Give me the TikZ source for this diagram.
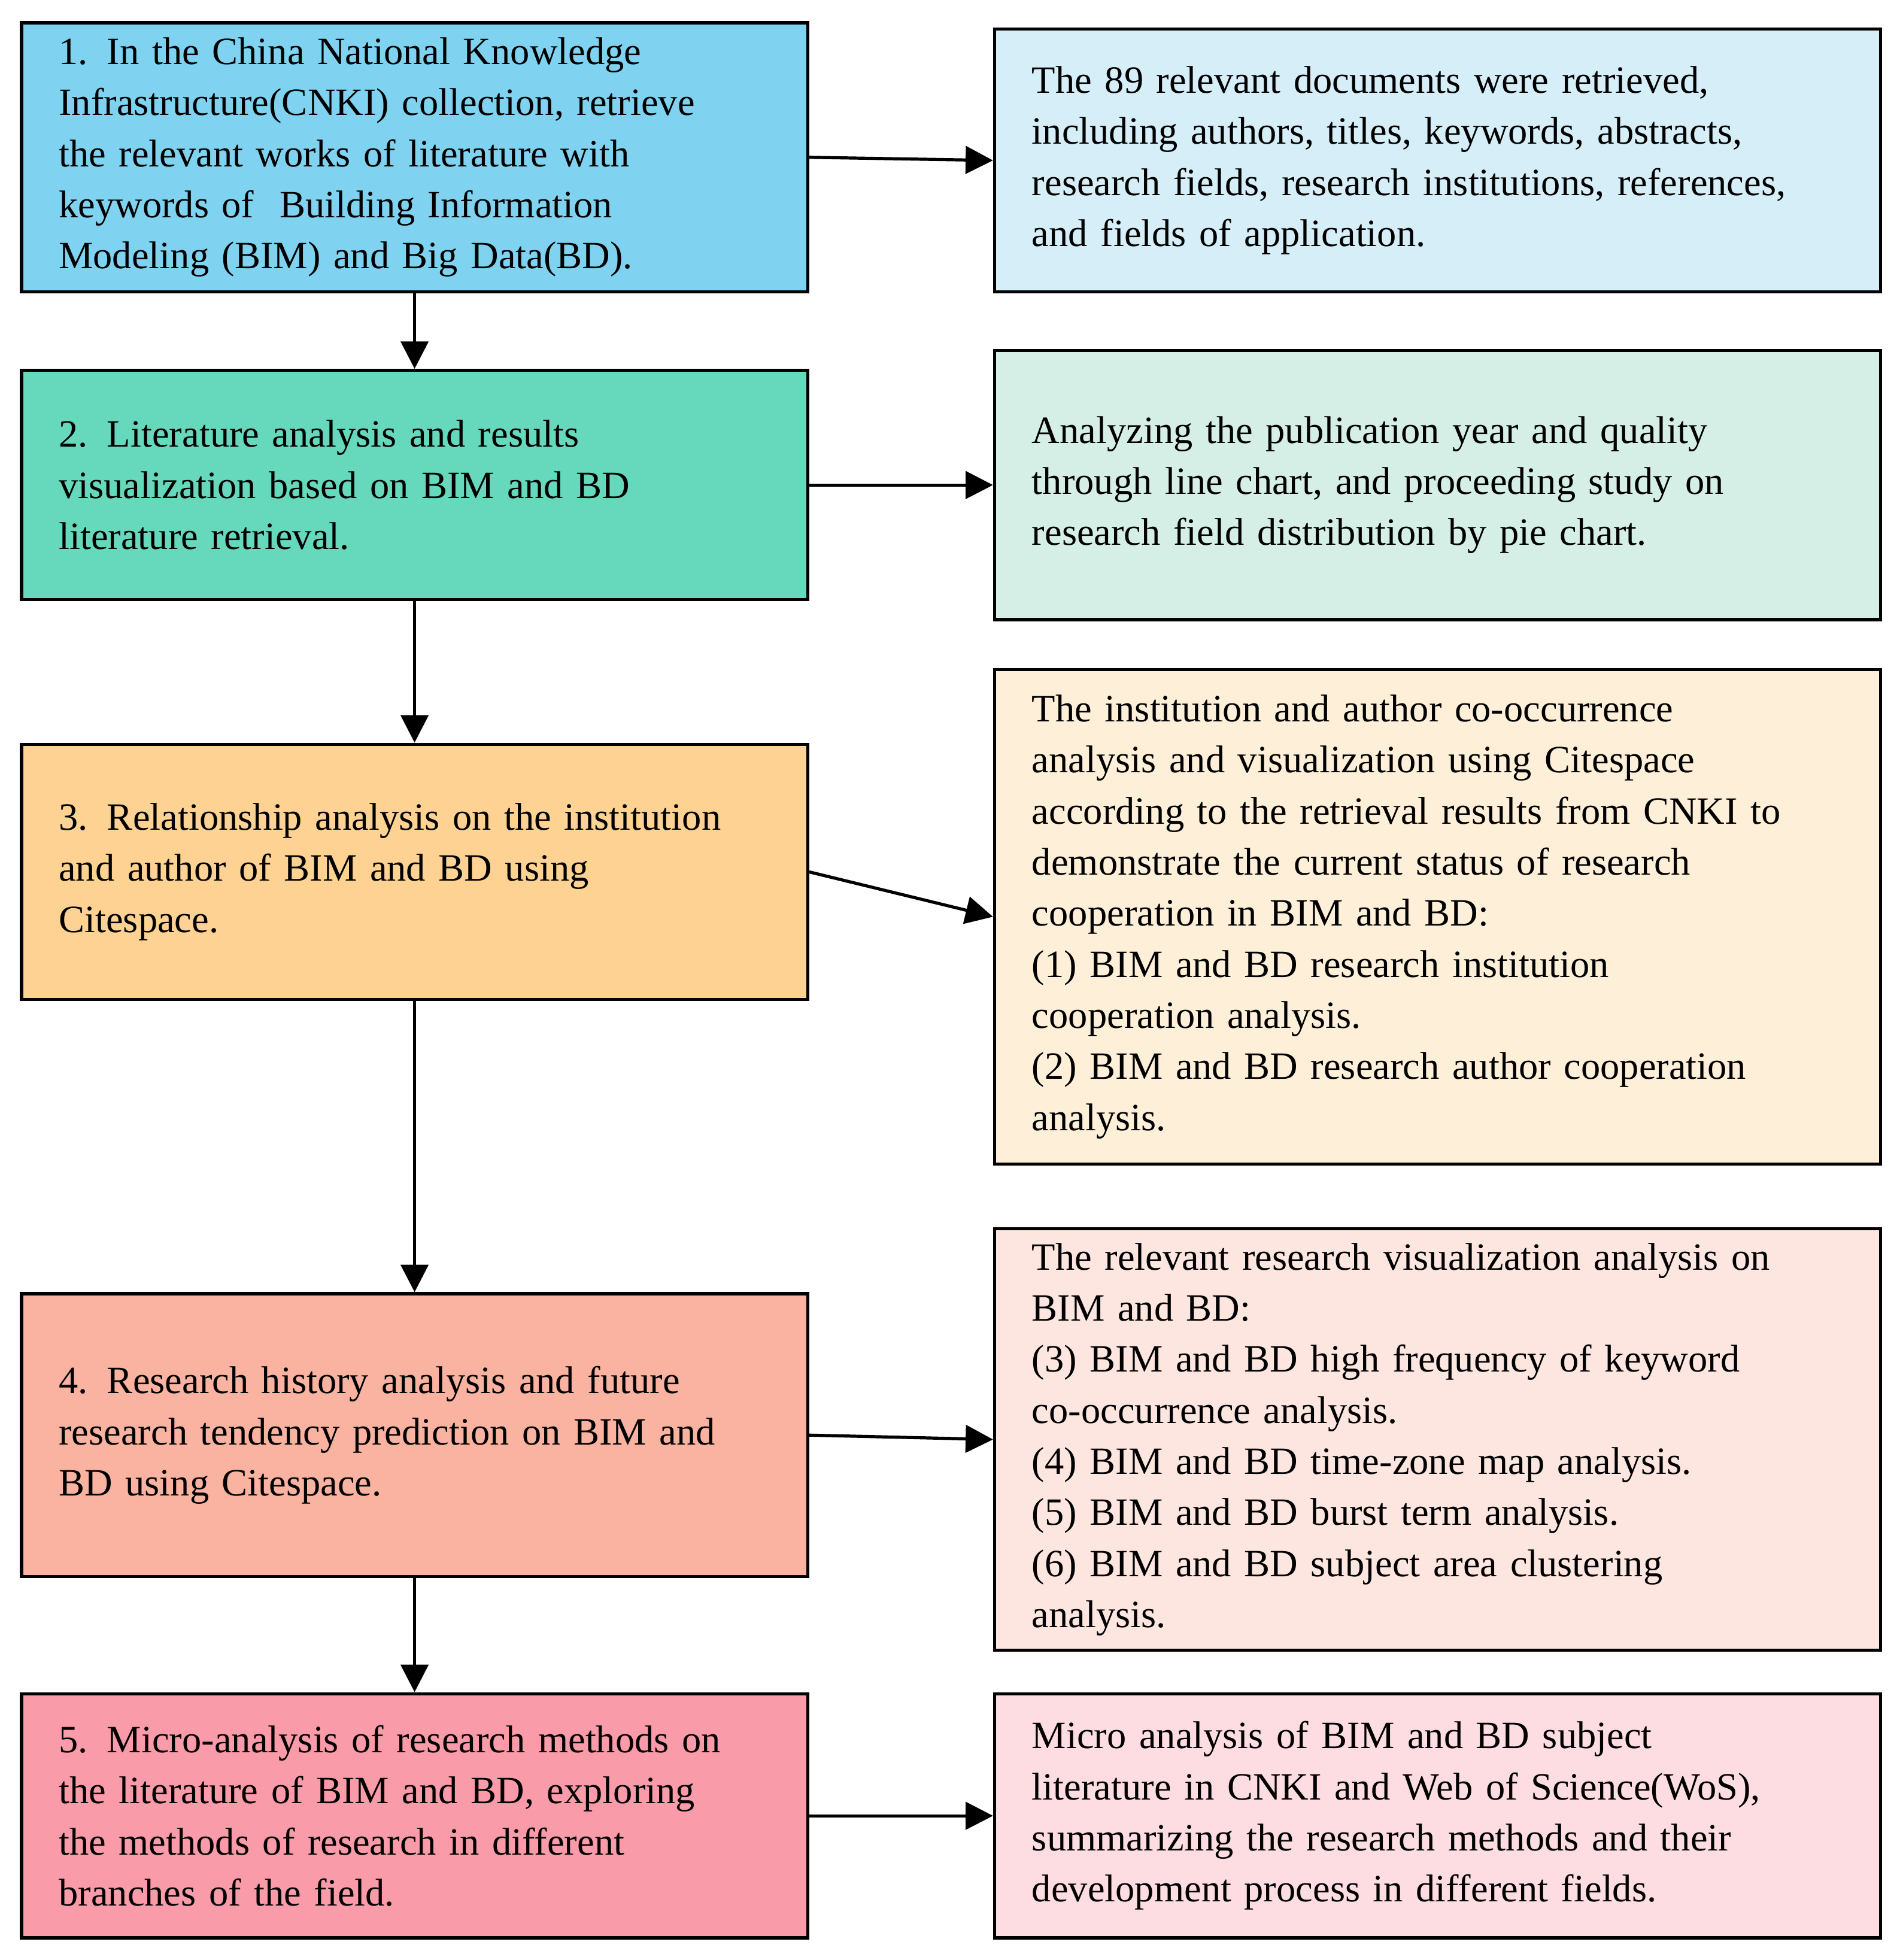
\documentclass[tikz,border=0pt]{standalone}
\usepackage{fontspec}
\setmainfont{Liberation Serif}
\usetikzlibrary{arrows.meta}
\definecolor{c1}{HTML}{7FD3F0}\definecolor{c2}{HTML}{66D9BC}\definecolor{c3}{HTML}{FDD292}
\definecolor{c4}{HTML}{F9B3A0}\definecolor{c5}{HTML}{F99BA8}
\definecolor{d1}{HTML}{D6EEF8}\definecolor{d2}{HTML}{D5EEE6}\definecolor{d3}{HTML}{FEEFD9}
\definecolor{d4}{HTML}{FDE5E0}\definecolor{d5}{HTML}{FDDDE2}
\begin{document}
\begin{tikzpicture}[x=1pt,y=-1pt,
  box/.style={draw=black,line width=2.5pt,inner xsep=30pt,inner ysep=0pt,align=left,anchor=north west,
    font=\fontsize{31}{41}\selectfont},
  lb/.style={box,minimum width=631pt,text width=571pt},
  rb/.style={box,minimum width=711pt,text width=651pt},
  arr/.style={line width=2.5pt,-{Triangle[length=22pt,width=22pt]}}]
\useasboundingbox (0,0) rectangle (1527,1573);
\node[lb,fill=c1,minimum height=216pt] (b1) at (16,17) {1. In the China National Knowledge\\Infrastructure(CNKI) collection, retrieve\\the relevant works of literature with\\keywords of \ Building Information\\Modeling (BIM) and Big Data(BD).};
\node[lb,fill=c2,minimum height=184pt] (b2) at (16,296) {2. Literature analysis and results\\visualization based on BIM and BD\\literature retrieval.};
\node[lb,fill=c3,minimum height=205pt] (b3) at (16,596) {3. Relationship analysis on the institution\\and author of BIM and BD using\\Citespace.};
\node[lb,fill=c4,minimum height=227pt] (b4) at (16,1037) {4. Research history analysis and future\\research tendency prediction on BIM and\\BD using Citespace.};
\node[lb,fill=c5,minimum height=196pt] (b5) at (16,1358) {5. Micro-analysis of research methods on\\the literature of BIM and BD, exploring\\the methods of research in different\\branches of the field.};
\node[rb,fill=d1,minimum height=211pt] (r1) at (797,22) {The 89 relevant documents were retrieved,\\including authors, titles, keywords, abstracts,\\research fields, research institutions, references,\\and fields of application.};
\node[rb,fill=d2,minimum height=216pt,inner ysep=0pt] (r2) at (797,280) {Analyzing the publication year and quality\\through line chart, and proceeding study on\\research field distribution by pie chart.\\[41pt]};
\node[rb,fill=d3,minimum height=397pt] (r3) at (797,536) {The institution and author co-occurrence\\analysis and visualization using Citespace\\according to the retrieval results from CNKI to\\demonstrate the current status of research\\cooperation in BIM and BD:\\(1) BIM and BD research institution\\cooperation analysis.\\(2) BIM and BD research author cooperation\\analysis.};
\node[rb,fill=d4,minimum height=338pt] (r4) at (797,985) {The relevant research visualization analysis on\\BIM and BD:\\(3) BIM and BD high frequency of keyword\\co-occurrence analysis.\\(4) BIM and BD time-zone map analysis.\\(5) BIM and BD burst term analysis.\\(6) BIM and BD subject area clustering\\analysis.};
\node[rb,fill=d5,minimum height=196pt] (r5) at (797,1358) {Micro analysis of BIM and BD subject\\literature in CNKI and Web of Science(WoS),\\summarizing the research methods and their\\development process in different fields.};
\draw[arr] (b1.south) -- (b2.north);
\draw[arr] (b2.south) -- (b3.north);
\draw[arr] (b3.south) -- (b4.north);
\draw[arr] (b4.south) -- (b5.north);
\draw[arr] (b1.east) -- (r1.west);
\draw[arr] (b2.east) -- (r2.west);
\draw[arr] (b3.east) -- (r3.west);
\draw[arr] (b4.east) -- (r4.west);
\draw[arr] (b5.east) -- (r5.west);
\end{tikzpicture}
\end{document}
